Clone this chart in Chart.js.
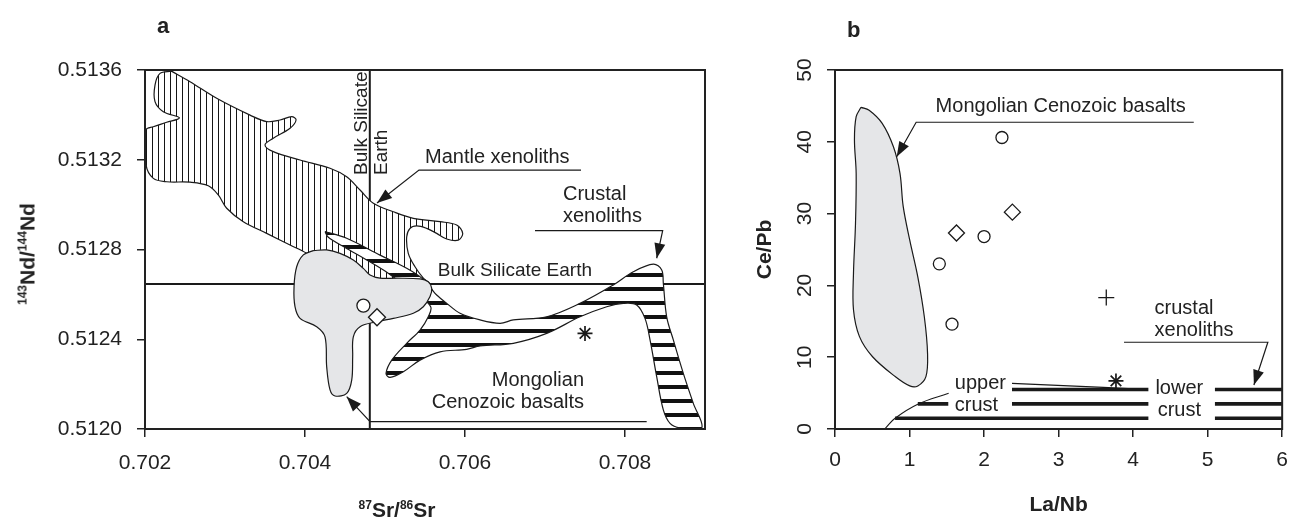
<!DOCTYPE html>
<html>
<head>
<meta charset="utf-8">
<script src="https://cdn.jsdelivr.net/npm/chart.js@4.4.0/dist/chart.umd.min.js"></script>
<style>
  body { margin: 0; background: #fff; }
  #wrap { position: relative; width: 1299px; height: 518px; font-family: 'Liberation Sans', Arial, sans-serif; color: #222; }
  canvas { position: absolute; top: 0; }
  #chartA { left: 0; }
  #chartB { left: 720px; }
  .panel { position: absolute; font-weight: bold; font-size: 22px; line-height: 22px; }
  .axt { position: absolute; font-weight: bold; font-size: 21px; line-height: 21px; white-space: nowrap; transform: translate(-50%, -50%); }
  .axt sup { font-size: 12px; line-height: 0; vertical-align: 8px; }
</style>
</head>
<body>
<div id="wrap">
  <canvas id="chartA" width="720" height="518"></canvas>
  <canvas id="chartB" width="579" height="518"></canvas>
  <div class="panel" style="left:157px; top:15px">a</div>
  <div class="panel" style="left:847px; top:19px">b</div>
  <div class="axt" style="left:397px; top:509px"><sup>87</sup>Sr/<sup>86</sup>Sr</div>
  <div class="axt" style="left:27px; top:254px; transform: translate(-50%, -50%) rotate(-90deg)"><sup>143</sup>Nd/<sup>144</sup>Nd</div>
</div>
<script>
// ---- panel a : 87Sr/86Sr vs 143Nd/144Nd ----
var srTicks = [0.702, 0.704, 0.706, 0.708];
var ndTicks = [0.5120, 0.5124, 0.5128, 0.5132, 0.5136];

// outlines traced round each field, [Sr, Nd]
var mantleField = [
  [0.70233, 0.513595], [0.702563, 0.513548], [0.702896, 0.513474], [0.703313, 0.513399], [0.703521, 0.51337],
  [0.703688, 0.513377], [0.703834, 0.513392], [0.703888, 0.513377], [0.703813, 0.51334], [0.703604, 0.513296],
  [0.7035, 0.513266], [0.703604, 0.513236], [0.703938, 0.513199], [0.704313, 0.513162], [0.704521, 0.513124],
  [0.704688, 0.513065], [0.704854, 0.513006], [0.705104, 0.512968], [0.705354, 0.512939], [0.705688, 0.512924],
  [0.705896, 0.512909], [0.705971, 0.512872], [0.705916, 0.512842], [0.705771, 0.512847], [0.705646, 0.512872],
  [0.705521, 0.512894], [0.705396, 0.512905], [0.705313, 0.512894], [0.705271, 0.512856], [0.705291, 0.512783],
  [0.705375, 0.512723], [0.705479, 0.512672], [0.705563, 0.512642], [0.705188, 0.512642], [0.704563, 0.512686],
  [0.704188, 0.512744], [0.704021, 0.512783], [0.703813, 0.51282], [0.703521, 0.512872], [0.703229, 0.512924],
  [0.703021, 0.512984], [0.702916, 0.513043], [0.702791, 0.513084], [0.702563, 0.5131], [0.702271, 0.513102],
  [0.702104, 0.513117], [0.702013, 0.513177], [0.702013, 0.513333], [0.702104, 0.513347], [0.702271, 0.513367],
  [0.702429, 0.513387], [0.702229, 0.513414], [0.702125, 0.513459], [0.702125, 0.513533], [0.702188, 0.513585],
  [0.70233, 0.513595]
];
var crustalField = [
  [0.70425, 0.51288], [0.704521, 0.51285], [0.704938, 0.512775], [0.705271, 0.512716], [0.705479, 0.512667],
  [0.705584, 0.512623], [0.705646, 0.512597], [0.705771, 0.51256], [0.705938, 0.512516], [0.706188, 0.512486],
  [0.706438, 0.512471], [0.706604, 0.512486], [0.707021, 0.5125], [0.707438, 0.51256], [0.707854, 0.512642],
  [0.708104, 0.512701], [0.708354, 0.512735], [0.708459, 0.512709], [0.708479, 0.512649], [0.708521, 0.5125],
  [0.708604, 0.512397], [0.708729, 0.512248], [0.708854, 0.512114], [0.708959, 0.512005], [0.708688, 0.512005],
  [0.708563, 0.512025], [0.708479, 0.512085], [0.708396, 0.512233], [0.708313, 0.512397], [0.70825, 0.512493],
  [0.708146, 0.512553], [0.707979, 0.51256], [0.707771, 0.512545], [0.707438, 0.5125], [0.707021, 0.512426],
  [0.706604, 0.512382], [0.706188, 0.51237], [0.706021, 0.512355], [0.705688, 0.512344], [0.705438, 0.512307],
  [0.705229, 0.512255], [0.705063, 0.51223], [0.705013, 0.512248], [0.705084, 0.512307], [0.705271, 0.512382],
  [0.705438, 0.512441], [0.705541, 0.5125], [0.705571, 0.512545], [0.705375, 0.512611], [0.705188, 0.512655],
  [0.705, 0.512704], [0.70475, 0.512758], [0.7045, 0.512809], [0.704288, 0.512856], [0.70425, 0.51288]
];
var basaltFieldA = [
  [0.704104, 0.512795], [0.704271, 0.512798], [0.704438, 0.512783], [0.704604, 0.512753], [0.704729, 0.512716],
  [0.704813, 0.512686], [0.704938, 0.512672], [0.705146, 0.512672], [0.705438, 0.512669], [0.705541, 0.512656],
  [0.705584, 0.512627], [0.705563, 0.51259], [0.705479, 0.512545], [0.705354, 0.512516], [0.705104, 0.512493],
  [0.704896, 0.512478], [0.704688, 0.512456], [0.704604, 0.512411], [0.704596, 0.512322], [0.704584, 0.512218],
  [0.704521, 0.512159], [0.704375, 0.512147], [0.704313, 0.512174], [0.704271, 0.512278], [0.70425, 0.512411],
  [0.704146, 0.512456], [0.703938, 0.512493], [0.703875, 0.512545], [0.703863, 0.512634], [0.703896, 0.512723],
  [0.703979, 0.512776], [0.704104, 0.512795]
];
// Bulk Silicate Earth
var bseSr = 0.70481;
var bseNd = 0.512646;
// samples
var circleA = [[0.70473, 0.51255]];
var diamondA = [[0.7049, 0.512498]];
var starA = [[0.7075, 0.512426]];
// leader lines, the last point is the arrow tip
var leaderMantle = [[0.70745, 0.513154], [0.705425, 0.513154], [0.7049, 0.513007]];
var leaderCrustA = [[0.706875, 0.512884], [0.708471, 0.512884], [0.708396, 0.512761]];
var leaderBasaltA = [[0.708271, 0.512033], [0.704813, 0.512033], [0.704521, 0.512144]];

// ---- panel b : La/Nb vs Ce/Pb ----
var laNbTicks = [0, 1, 2, 3, 4, 5, 6];
var cePbTicks = [0, 10, 20, 30, 40, 50];
var basaltFieldB = [
  [0.349, 44.8], [0.458, 44.4], [0.631, 42.6], [0.784, 39.3], [0.872, 35.6], [0.915, 31.0], [1.003, 26.3],
  [1.111, 21.2], [1.199, 15.6], [1.242, 10.5], [1.22, 7.3], [1.111, 6.0], [1.003, 6.0], [0.807, 7.3],
  [0.501, 10.1], [0.327, 12.9], [0.248, 16.6], [0.248, 21.7], [0.275, 28.6], [0.284, 35.6], [0.261, 40.3],
  [0.284, 43.5], [0.349, 44.8]
];
var circleB = [[2.24, 40.6], [2.0, 26.8], [1.4, 23.0], [1.57, 14.6]];
var diamondB = [[2.38, 30.2], [1.63, 27.3]];
var plusB = [[3.64, 18.3]];
var starB = [[3.77, 6.7]];
// crust bars [from, to, Ce/Pb]
var upperCrustBars = [[0.806, 4.205, 1.5], [1.111, 1.52, 3.5], [2.375, 4.205, 3.5], [2.375, 4.205, 5.5]];
var lowerCrustBars = [[5.098, 6, 1.5], [5.098, 6, 3.5], [5.098, 6, 5.5]];
var upperCrustEdge = [[0.676, 0.1], [0.806, 1.49], [1.111, 3.44], [1.525, 4.97]];
var upperCrustTie = [[2.375, 6.36], [3.6, 5.8], [4.0, 5.6]];
var leaderBasaltB = [[4.814, 42.72], [1.089, 42.72], [0.828, 37.92]];
var leaderCrustB = [[3.878, 12.08], [5.808, 12.08], [5.621, 6.13]];

// text notes, anchored in data units
var notesA = [
  {lines: ['Mantle xenoliths'], x: 0.7055, y: 0.513208, align: 'left', size: 20},
  {lines: ['Crustal', 'xenoliths'], x: 0.707225, y: 0.513044, align: 'left', size: 20},
  {lines: ['Bulk Silicate Earth'], x: 0.70566, y: 0.512704, align: 'left', size: 19},
  {lines: ['Bulk Silicate'], x: 0.704713, y: 0.513132, align: 'left', size: 19, vertical: true},
  {lines: ['Earth'], x: 0.704963, y: 0.513132, align: 'left', size: 19, vertical: true},
  {lines: ['Mongolian', 'Cenozoic basalts'], x: 0.707488, y: 0.512214, align: 'right', size: 20}
];
var notesB = [
  {lines: ['Mongolian Cenozoic basalts'], x: 1.35, y: 44.93, align: 'left', size: 20},
  {lines: ['crustal', 'xenoliths'], x: 4.288, y: 16.85, align: 'left', size: 20},
  {lines: ['upper', 'crust'], x: 1.608, y: 6.37, align: 'left', size: 20},
  {lines: ['lower', 'crust'], x: 4.62, y: 5.7, align: 'center', size: 20}
];

var ink = '#1a1a1a';
var family = "'Liberation Sans', Arial, sans-serif";
Chart.defaults.font.family = family;
Chart.defaults.color = '#222';

function pattern(w, h, paint) {
  var c = document.createElement('canvas');
  c.width = w; c.height = h;
  var g = c.getContext('2d');
  g.fillStyle = '#fff';
  g.fillRect(0, 0, w, h);
  paint(g);
  return g.createPattern(c, 'repeat');
}
var vHatch = pattern(6, 6, function (g) { g.fillStyle = '#151515'; g.fillRect(2, 0, 1, 6); });
var hBars = pattern(14, 14, function (g) { g.fillStyle = '#111'; g.fillRect(0, 7, 14, 4); });

function xy(pts) { return pts.map(function (p) { return {x: p[0], y: p[1]}; }); }
function field(pts, bg, order) {
  return {data: xy(pts), showLine: true, fill: 'shape', backgroundColor: bg, borderColor: ink,
          borderWidth: 1.2, tension: 0.35, pointRadius: 0, order: order};
}
function stroke(pts, width, order, more) {
  return Object.assign({data: xy(pts), showLine: true, fill: false, borderColor: ink, borderWidth: width,
          tension: 0, pointRadius: 0, order: order}, more || {});
}
function bars(list, order) {
  return list.map(function (b) { return stroke([[b[0], b[2]], [b[1], b[2]]], 3.6, order); });
}
function marks(pts, style, r, width) {
  return {data: xy(pts), showLine: false, pointStyle: style, pointRadius: r, pointBackgroundColor: '#fff',
          pointBorderColor: ink, pointBorderWidth: width || 1.3, order: 0};
}

var frame = {
  id: 'frame',
  afterDatasetsDraw: function (chart) {
    var a = chart.chartArea, ctx = chart.ctx;
    ctx.save();
    ctx.strokeStyle = '#222';
    ctx.lineWidth = 2;
    ctx.strokeRect(a.left, a.top, a.right - a.left, a.bottom - a.top);
    ctx.restore();
  }
};
var arrowHeads = {
  id: 'arrowHeads',
  afterDatasetsDraw: function (chart) {
    var ctx = chart.ctx;
    chart.data.datasets.forEach(function (ds, i) {
      if (!ds.arrow) return;
      var pts = chart.getDatasetMeta(i).data;
      var a = pts[pts.length - 2], b = pts[pts.length - 1];
      ctx.save();
      ctx.translate(b.x, b.y);
      ctx.rotate(Math.atan2(b.y - a.y, b.x - a.x));
      ctx.beginPath();
      ctx.moveTo(0, 0); ctx.lineTo(-15, -5.5); ctx.lineTo(-15, 5.5);
      ctx.closePath();
      ctx.fillStyle = ink;
      ctx.fill();
      ctx.restore();
    });
  }
};
function notes(items) {
  return {
    id: 'notes',
    afterDatasetsDraw: function (chart) {
      var ctx = chart.ctx, sx = chart.scales.x, sy = chart.scales.y;
      ctx.save();
      ctx.fillStyle = '#222';
      ctx.textBaseline = 'middle';
      items.forEach(function (n) {
        ctx.font = n.size + 'px ' + family;
        ctx.textAlign = n.align;
        ctx.save();
        ctx.translate(sx.getPixelForValue(n.x), sy.getPixelForValue(n.y));
        if (n.vertical) ctx.rotate(-Math.PI / 2);
        n.lines.forEach(function (t, k) { ctx.fillText(t, 0, k * 22); });
        ctx.restore();
      });
      ctx.restore();
    }
  };
}

// linear axis with fixed tick values, ticks outside, no grid
function axis(min, max, ticks, fmt, tickOpts, more) {
  return Object.assign({
    type: 'linear', min: min, max: max,
    afterBuildTicks: function (s) { s.ticks = ticks.map(function (v) { return {value: v}; }); },
    ticks: Object.assign({callback: fmt, font: {size: 21}, color: '#222', autoSkip: false, maxRotation: 0}, tickOpts),
    grid: {drawOnChartArea: false, tickLength: 8, color: '#222', lineWidth: 1.5},
    border: {color: '#222', width: 2}
  }, more);
}

// panel a
new Chart(document.getElementById('chartA'), {
  type: 'scatter',
  data: {
    datasets: [
      stroke([[0.702, bseNd], [0.709, bseNd]], 2, 9),
      stroke([[bseSr, 0.512], [bseSr, 0.5136]], 2, 9),
      field(mantleField, vHatch, 8),
      field(crustalField, hBars, 7),
      field(basaltFieldA, '#e5e6e8', 6),
      stroke(leaderMantle, 1.2, 1, {arrow: true}),
      stroke(leaderCrustA, 1.2, 1, {arrow: true}),
      stroke(leaderBasaltA, 1.2, 1, {arrow: true}),
      marks(circleA, 'circle', 6.5),
      marks(diamondA, 'rectRot', 8.5),
      marks(starA, 'star', 7.5, 1.7)
    ]
  },
  options: {
    responsive: false, animation: false, events: [],
    layout: {padding: {top: 70, right: 15, bottom: 0, left: 0}},
    plugins: {legend: {display: false}, tooltip: {enabled: false}, filler: {drawTime: 'beforeDatasetDraw'}},
    scales: {
      x: axis(0.702, 0.709, srTicks, function (v) { return v.toFixed(3); }, {padding: 14}, {
        afterFit: function (s) { s.height = 89; }
      }),
      y: axis(0.512, 0.5136, ndTicks, function (v) { return v.toFixed(4); }, {padding: 15}, {
        afterFit: function (s) { s.width = 145; }
      })
    }
  },
  plugins: [frame, arrowHeads, notes(notesA)]
});

// panel b
new Chart(document.getElementById('chartB'), {
  type: 'scatter',
  data: {
    datasets: [field(basaltFieldB, '#e5e6e8', 6)]
      .concat(bars(upperCrustBars, 2), bars(lowerCrustBars, 2))
      .concat([
        stroke(upperCrustEdge, 1.1, 2, {tension: 0.4}),
        stroke(upperCrustTie, 1.1, 2),
        stroke(leaderBasaltB, 1.2, 1, {arrow: true}),
        stroke(leaderCrustB, 1.2, 1, {arrow: true}),
        marks(circleB, 'circle', 6),
        marks(diamondB, 'rectRot', 8),
        marks(plusB, 'cross', 8, 1.3),
        marks(starB, 'star', 7.5, 1.7)
      ])
  },
  options: {
    responsive: false, animation: false, events: [],
    layout: {padding: {top: 70, right: 5, bottom: 0, left: 0}},
    plugins: {legend: {display: false}, tooltip: {enabled: false}, filler: {drawTime: 'beforeDatasetDraw'}},
    scales: {
      x: axis(0, 6, laNbTicks, function (v) { return v; }, {padding: 11}, {
        afterFit: function (s) { s.height = 89; },
        title: {display: true, text: 'La/Nb', font: {size: 21, weight: 'bold'}, color: '#222', padding: {top: 0, bottom: 0}}
      }),
      y: axis(0, 50, cePbTicks, function (v) { return v; },
        {padding: 10, minRotation: 90, maxRotation: 90, crossAlign: 'center'}, {
        afterFit: function (s) { s.width = 115; },
        title: {display: true, text: 'Ce/Pb', font: {size: 21, weight: 'bold'}, color: '#222', padding: {top: 33, bottom: 0}}
      })
    }
  },
  plugins: [frame, arrowHeads, notes(notesB)]
});
</script>
</body>
</html>
